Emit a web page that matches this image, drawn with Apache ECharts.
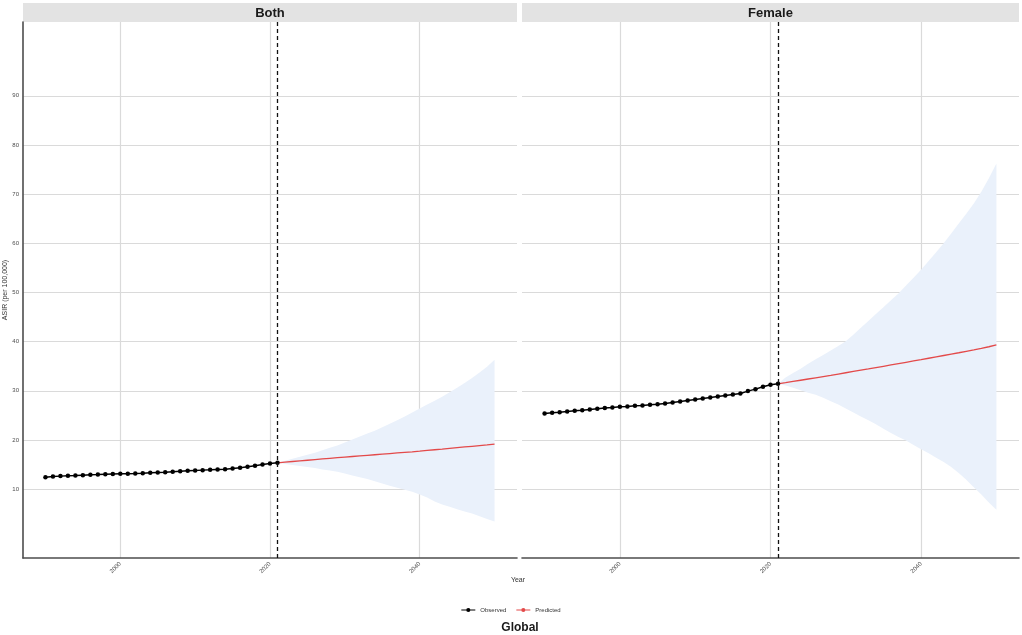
<!DOCTYPE html>
<html>
<head>
<meta charset="utf-8">
<script src="https://cdn.jsdelivr.net/npm/echarts@6/dist/echarts.min.js"></script>
<style>
  html, body { margin: 0; padding: 0; background: #fff; }
  #chart { width: 1022px; height: 635px; }
</style>
</head>
<body>
<div id="chart"></div>
<script>
// observed years 1990-2021, forecast 2021-2050
const obsYears = [1990, 1991, 1992, 1993, 1994, 1995, 1996, 1997, 1998, 1999, 2000, 2001, 2002, 2003, 2004, 2005,
  2006, 2007, 2008, 2009, 2010, 2011, 2012, 2013, 2014, 2015, 2016, 2017, 2018, 2019, 2020, 2021];
const predYears = [2021, 2022, 2023, 2024, 2025, 2026, 2027, 2028, 2029, 2030, 2031, 2032, 2033, 2034, 2035,
  2036, 2037, 2038, 2039, 2040, 2041, 2042, 2043, 2044, 2045, 2046, 2047, 2048, 2049, 2050];

const bothObserved = [12.44, 12.55, 12.65, 12.72, 12.78, 12.85, 12.92, 12.98, 13.05, 13.09, 13.12, 13.15, 13.19, 13.25,
  13.32, 13.39, 13.46, 13.56, 13.66, 13.73, 13.80, 13.87, 13.93, 14.00, 14.07, 14.20, 14.34, 14.55, 14.75, 15.02, 15.22, 15.36];
const bothPredicted = [15.36, 15.49, 15.62, 15.75, 15.88, 16.01, 16.14, 16.27, 16.40, 16.52, 16.64, 16.76, 16.88, 17.00,
  17.12, 17.24, 17.36, 17.48, 17.60, 17.73, 17.87, 18.01, 18.15, 18.30, 18.44, 18.58, 18.72, 18.86, 19.00, 19.15];
const bothUpper = [15.36, 15.8, 16.2, 16.6, 17.0, 17.4, 17.9, 18.4, 18.9, 19.5, 20.1, 20.7, 21.3, 21.9, 22.6,
  23.3, 24.0, 24.8, 25.6, 26.4, 27.2, 28.0, 28.8, 29.7, 30.6, 31.6, 32.6, 33.7, 34.9, 36.3];
const bothLower = [15.36, 15.1, 14.9, 14.7, 14.5, 14.3, 14.0, 13.8, 13.55, 13.2, 12.8, 12.4, 12.05, 11.6, 11.15,
  10.7, 10.3, 9.9, 9.45, 8.9, 8.3, 7.5, 6.9, 6.4, 5.9, 5.45, 5.05, 4.5, 3.95, 3.4];

const femaleObserved = [25.39, 25.53, 25.66, 25.80, 25.94, 26.07, 26.21, 26.34, 26.48, 26.61, 26.75, 26.82, 26.95, 27.02,
  27.16, 27.29, 27.43, 27.63, 27.83, 28.04, 28.24, 28.44, 28.65, 28.85, 29.05, 29.26, 29.46, 29.94, 30.34, 30.82, 31.22, 31.43];
const femalePredicted = [31.43, 31.65, 31.90, 32.15, 32.40, 32.65, 32.90, 33.15, 33.41, 33.67, 33.93, 34.19, 34.45, 34.72,
  34.99, 35.26, 35.53, 35.80, 36.07, 36.34, 36.62, 36.90, 37.18, 37.46, 37.74, 38.03, 38.32, 38.62, 38.96, 39.33];
const femaleUpper = [31.43, 32.7, 33.6, 34.5, 35.5, 36.4, 37.3, 38.2, 39.1, 40.1, 41.4, 42.8, 44.2, 45.6, 47.0,
  48.4, 49.8, 51.4, 53.0, 54.6, 56.4, 58.2, 60.0, 62.0, 64.0, 66.0, 68.1, 70.5, 73.2, 76.2];
const femaleLower = [31.43, 31.1, 30.6, 30.1, 29.6, 29.2, 28.6, 27.9, 27.2, 26.4, 25.6, 24.8, 24.0, 23.2, 22.3,
  21.4, 20.6, 19.9, 19.0, 18.1, 17.3, 16.4, 15.5, 14.5, 13.3, 11.9, 10.4, 8.9, 7.3, 5.8];

const panels = ['Both', 'Female'];
const xTicks = [2000, 2020, 2040];
const yTicks = [10, 20, 30, 40, 50, 60, 70, 80, 90];
const cutYear = 2021;

const FONT = 'Liberation Sans, Arial, sans-serif';
const RED = '#e34a4a';
const BAND = '#eaf1fb';
// legend key: short line with a dot in the middle
const KEY_ICON = 'path://M0,3.4H20V4.6H0Z M13,4A3,3 0 1,1 7,4A3,3 0 1,1 13,4Z';

const zip = (xs, ys) => xs.map((x, i) => [x, ys[i]]);

// one polygon for the whole interval, drawn on the first item
const bandRender = (upper, lower) => (params, api) => {
  if (params.dataIndex !== 0) return;
  let pts = [];
  for (let i = 0; i < predYears.length; i++) pts.push(api.coord([predYears[i], upper[i]]));
  for (let i = predYears.length - 1; i >= 0; i--) pts.push(api.coord([predYears[i], lower[i]]));
  return { type: 'polygon', shape: { points: pts }, style: { fill: BAND } };
};

const grids = [
  { left: 23, right: 505, top: 22, bottom: 77 },
  { left: 522, right: 3, top: 22, bottom: 77 }
];

const xAxes = grids.map((g, i) => ({
  type: 'value', gridIndex: i, min: 1987, max: 2053,
  axisLine: { show: true, onZero: false, lineStyle: { color: '#4d4d4d', width: 1.6 } },
  axisTick: { show: false, customValues: xTicks },
  axisLabel: {
    customValues: xTicks, rotate: 45, fontSize: 6, color: '#4d4d4d', margin: 5, fontFamily: FONT,
    formatter: v => String(v)
  },
  splitLine: { show: true, lineStyle: { color: '#dadada', width: 1.2 } }
}));

const yAxes = grids.map((g, i) => ({
  type: 'value', gridIndex: i, min: -4, max: 105,
  name: i === 0 ? 'ASIR (per 100,000)' : '',
  nameLocation: 'middle', nameGap: 11,
  nameTextStyle: { fontSize: 7, color: '#333', fontFamily: FONT },
  axisLine: { show: i === 0, onZero: false, lineStyle: { color: '#4d4d4d', width: 1.6 } },
  axisTick: { show: false, customValues: yTicks },
  axisLabel: { show: i === 0, customValues: yTicks, fontSize: 6, color: '#4d4d4d', margin: 4, fontFamily: FONT },
  splitLine: { show: true, lineStyle: { color: '#dadada', width: 1.2 } }
}));

const data = [
  { obs: bothObserved, pred: bothPredicted, up: bothUpper, lo: bothLower },
  { obs: femaleObserved, pred: femalePredicted, up: femaleUpper, lo: femaleLower }
];

let series = [];
data.forEach((d, i) => {
  series.push({
    type: 'custom', name: 'band' + i, xAxisIndex: i, yAxisIndex: i, z: 1, silent: true,
    renderItem: bandRender(d.up, d.lo),
    data: predYears.map((y, k) => [y, d.lo[k], d.up[k]]),
    encode: { x: 0, y: [1, 2] }
  });
  series.push({
    type: 'line', name: 'Predicted', xAxisIndex: i, yAxisIndex: i, z: 3,
    data: zip(predYears, d.pred), showSymbol: false, symbol: 'circle', symbolSize: 4,
    lineStyle: { color: RED, width: 1.3 }, itemStyle: { color: RED }
  });
  series.push({
    type: 'line', name: 'Observed', xAxisIndex: i, yAxisIndex: i, z: 4,
    data: zip(obsYears, d.obs), symbol: 'circle', symbolSize: 4.5,
    lineStyle: { color: '#000', width: 1.5 }, itemStyle: { color: '#000' },
    markLine: {
      silent: true, symbol: 'none', label: { show: false },
      lineStyle: { color: '#111', type: [4, 3], width: 1.3 },
      data: [{ xAxis: cutYear }]
    }
  });
});

let graphics = [];
grids.forEach((g, i) => {
  const x0 = g.left, x1 = 1022 - g.right;
  graphics.push({ type: 'rect', shape: { x: x0, y: 3, width: x1 - x0, height: 19 }, style: { fill: '#e3e3e3' }, silent: true });
  graphics.push({
    type: 'text', x: (x0 + x1) / 2, y: 13,
    style: { text: panels[i], fontSize: 13, fontWeight: 'bold', fill: '#1a1a1a', fontFamily: FONT, align: 'center', verticalAlign: 'middle' }
  });
});
graphics.push({
  type: 'text', x: 518, y: 580,
  style: { text: 'Year', fontSize: 7, fill: '#333', fontFamily: FONT, align: 'center', verticalAlign: 'middle' }
});
graphics.push({
  type: 'text', x: 520, y: 628,
  style: { text: 'Global', fontSize: 12, fontWeight: 'bold', fill: '#1a1a1a', fontFamily: FONT, align: 'center', verticalAlign: 'middle' }
});

const option = {
  animation: false,
  backgroundColor: '#fff',
  grid: grids,
  xAxis: xAxes,
  yAxis: yAxes,
  legend: {
    data: [
      { name: 'Observed', icon: KEY_ICON },
      { name: 'Predicted', icon: KEY_ICON }
    ],
    left: 'center', top: 602,
    itemWidth: 14, itemHeight: 6, itemGap: 10,
    textStyle: { fontSize: 6, color: '#333', fontFamily: FONT }
  },
  graphic: graphics,
  series
};

const chart = echarts.init(document.getElementById('chart'));
chart.setOption(option);
</script>
</body>
</html>
